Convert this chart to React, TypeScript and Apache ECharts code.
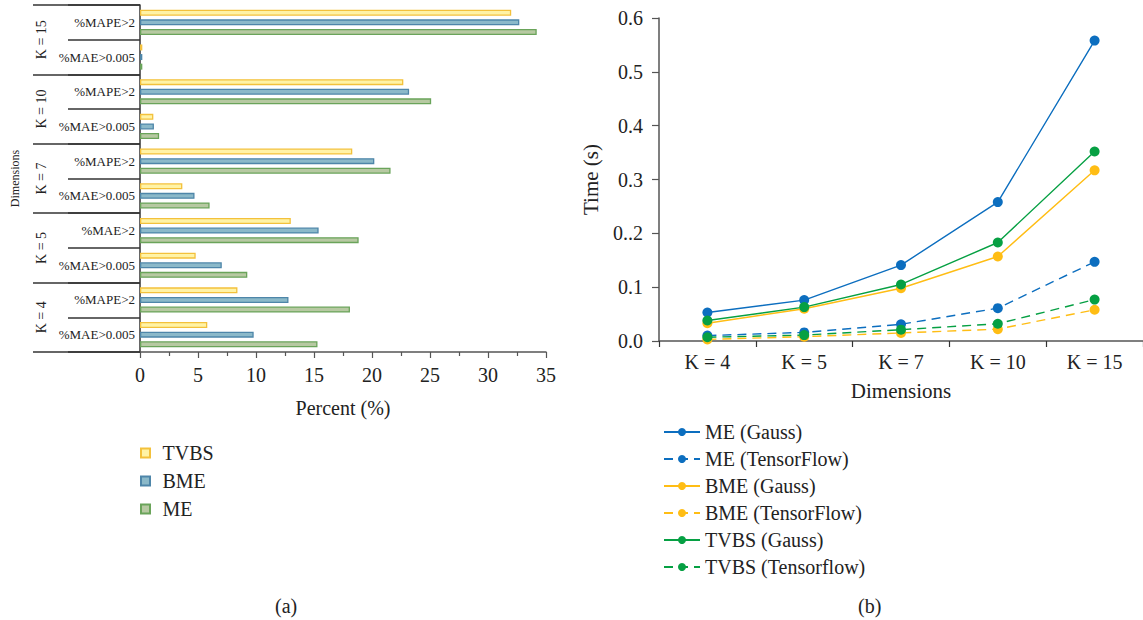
import React, { useEffect, useRef } from "react";
import * as echarts from "echarts";

const subCategories = [
  "%MAE>0.005", "%MAPE>2",
  "%MAE>0.005", "%MAE>2",
  "%MAE>0.005", "%MAPE>2",
  "%MAE>0.005", "%MAPE>2",
  "%MAE>0.005", "%MAPE>2",
];
const groups = ["K = 4", "K = 5", "K = 7", "K = 10", "K = 15"];
const tvbsPct = [5.8, 8.4, 4.8, 13.0, 3.65, 18.3, 1.15, 22.7, 0.2, 32.0];
const bmePct = [9.8, 12.8, 7.05, 15.4, 4.7, 20.2, 1.2, 23.2, 0.2, 32.7];
const mePct = [15.3, 18.1, 9.25, 18.85, 6.0, 21.6, 1.65, 25.1, 0.2, 34.2];
const percentTicks = [0, 5, 10, 15, 20, 25, 30, 35];

const dims = ["K = 4", "K = 5", "K = 7", "K = 10", "K = 15"];
const meGauss = [0.053, 0.076, 0.141, 0.258, 0.558];
const meTF = [0.01, 0.016, 0.031, 0.061, 0.147];
const bmeGauss = [0.033, 0.06, 0.098, 0.157, 0.317];
const bmeTF = [0.003, 0.008, 0.015, 0.022, 0.058];
const tvbsGauss = [0.038, 0.063, 0.105, 0.183, 0.352];
const tvbsTF = [0.007, 0.011, 0.021, 0.032, 0.077];
const timeTickLabels: Record<string, string> = {
  "0": "0.0", "0.1": "0.1", "0.2": "0..2", "0.3": "0.3", "0.4": "0.4", "0.5": "0.5", "0.6": "0.6",
};

const FONT = "Liberation Serif";
const BLUE = "#0c6ebf";
const ORANGE = "#ffbd14";
const GREEN = "#06a043";
const TXT = "#222";

export default function App() {
  const ref = useRef<HTMLDivElement>(null);
  useEffect(() => {
    if (!ref.current) return;
    const chart = echarts.init(ref.current, undefined, { renderer: "svg" });
    const barStyle = (fill: string, border: string) => ({ color: fill, borderColor: border, borderWidth: 1.3 });
    const lineSeries = (name: string, data: number[], color: string, dashed: boolean) => ({
      name,
      type: "line",
      xAxisIndex: 1,
      yAxisIndex: 2,
      data,
      symbol: "circle",
      symbolSize: 10,
      lineStyle: { color, width: 1.4, type: dashed ? [9, 6] : "solid" },
      itemStyle: { color },
    });
    const square = "path://M0,0h10v10h-10z";
    chart.setOption({
      animation: false,
      textStyle: { fontFamily: FONT, color: TXT },
      title: [
        { text: "(a)", left: 270, top: 591, textStyle: { fontFamily: FONT, fontSize: 20, fontWeight: "normal", color: TXT } },
        { text: "(b)", left: 853, top: 591, textStyle: { fontFamily: FONT, fontSize: 20, fontWeight: "normal", color: TXT } },
      ],
      legend: [
        {
          data: ["TVBS", "BME", "ME"],
          orient: "vertical",
          left: 135,
          top: 438,
          itemWidth: 24,
          itemHeight: 9,
          itemGap: 8,
          icon: square,
          textStyle: { fontFamily: FONT, fontSize: 20, color: TXT, lineHeight: 20 },
        },
        {
          data: ["ME (Gauss)", "ME (TensorFlow)", "BME (Gauss)", "BME (TensorFlow)", "TVBS (Gauss)", "TVBS (Tensorflow)"],
          orient: "vertical",
          left: 658,
          top: 417,
          itemWidth: 36,
          itemHeight: 10,
          itemGap: 7,
          textStyle: { fontFamily: FONT, fontSize: 20, color: TXT, lineHeight: 20 },
        },
      ],
      grid: [
        { left: 140, right: 597, top: 5, bottom: 268 },
        { left: 659, right: -3, top: 18, bottom: 279 },
      ],
      xAxis: [
        {
          gridIndex: 0,
          type: "value",
          min: 0,
          max: 35,
          interval: 5,
          name: "Percent (%)",
          nameLocation: "middle",
          nameGap: 46,
          nameTextStyle: { fontFamily: FONT, fontSize: 20, color: TXT },
          axisLine: { show: true, lineStyle: { color: "#555", width: 1.5 } },
          axisTick: { show: true, length: 6, lineStyle: { color: "#555", width: 1.2 } },
          minorTick: { show: true, splitNumber: 2, length: 4, lineStyle: { color: "#555", width: 1.2 } },
          splitLine: { show: false },
          axisLabel: {
            margin: 13,
            fontFamily: FONT,
            fontSize: 20,
            color: TXT,
            formatter: (v: number) => (percentTicks.includes(v) ? String(v) : ""),
          },
        },
        {
          gridIndex: 1,
          type: "category",
          data: dims,
          boundaryGap: true,
          name: "Dimensions",
          nameLocation: "middle",
          nameGap: 39,
          nameTextStyle: { fontFamily: FONT, fontSize: 21, color: TXT },
          axisLine: { show: true, lineStyle: { color: "#555", width: 1.5 } },
          axisTick: { show: true, length: 6, lineStyle: { color: "#333", width: 1.2 } },
          axisLabel: { margin: 11, fontFamily: FONT, fontSize: 20, color: TXT },
          splitLine: { show: false },
        },
      ],
      yAxis: [
        {
          gridIndex: 0,
          type: "category",
          data: subCategories,
          boundaryGap: true,
          name: "Dimensions",
          nameLocation: "middle",
          nameRotate: 90,
          nameGap: 119,
          nameTextStyle: { fontFamily: FONT, fontSize: 12, color: TXT },
          axisLine: { show: true, lineStyle: { color: "#333", width: 1.5 } },
          axisTick: { show: true, length: 72, lineStyle: { color: "#333", width: 1.5 } },
          axisLabel: { margin: 5, fontFamily: FONT, fontSize: 13, color: TXT },
        },
        {
          gridIndex: 0,
          type: "category",
          data: groups,
          boundaryGap: true,
          position: "left",
          axisLine: { show: false },
          axisTick: { show: true, length: 107, lineStyle: { color: "#333", width: 1.5 } },
          axisLabel: { margin: 92, rotate: 90, fontFamily: FONT, fontSize: 14, color: TXT },
        },
        {
          gridIndex: 1,
          type: "value",
          min: 0,
          max: 0.6,
          interval: 0.1,
          name: "Time (s)",
          nameLocation: "middle",
          nameRotate: 90,
          nameGap: 58,
          nameTextStyle: { fontFamily: FONT, fontSize: 21, color: TXT },
          axisLine: { show: true, lineStyle: { color: "#555", width: 1.5 } },
          axisTick: { show: true, length: 7, lineStyle: { color: "#555", width: 1.2 } },
          splitLine: { show: false },
          axisLabel: {
            margin: 16,
            fontFamily: FONT,
            fontSize: 20,
            color: TXT,
            formatter: (v: number) => timeTickLabels[String(+v.toFixed(1))] ?? String(v),
          },
        },
      ],
      series: [
        { name: "TVBS", type: "bar", xAxisIndex: 0, yAxisIndex: 0, data: tvbsPct, barWidth: 6, barGap: "60%", itemStyle: barStyle("#fff3a6", "#f3c13c") },
        { name: "BME", type: "bar", xAxisIndex: 0, yAxisIndex: 0, data: bmePct, barWidth: 6, barGap: "60%", itemStyle: barStyle("#8bb9c9", "#4e86a9") },
        { name: "ME", type: "bar", xAxisIndex: 0, yAxisIndex: 0, data: mePct, barWidth: 6, barGap: "60%", itemStyle: barStyle("#b7c9a2", "#6aa45a") },
        lineSeries("ME (Gauss)", meGauss, BLUE, false),
        lineSeries("ME (TensorFlow)", meTF, BLUE, true),
        lineSeries("BME (Gauss)", bmeGauss, ORANGE, false),
        lineSeries("BME (TensorFlow)", bmeTF, ORANGE, true),
        lineSeries("TVBS (Gauss)", tvbsGauss, GREEN, false),
        lineSeries("TVBS (Tensorflow)", tvbsTF, GREEN, true),
      ],
    });
    return () => chart.dispose();
  }, []);
  return (
    <div
      ref={ref}
      style={{ position: "fixed", left: 0, top: 0, width: 1143, height: 620, background: "#fff" }}
    />
  );
}
